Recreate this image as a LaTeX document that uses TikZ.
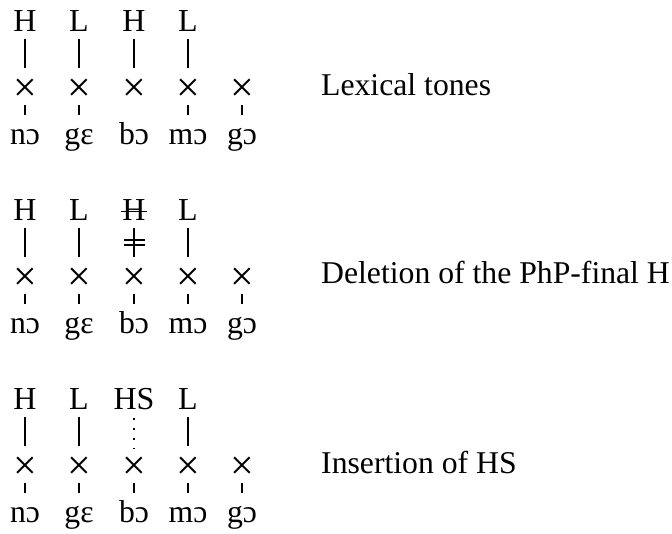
\documentclass[tikz,border=0pt]{standalone}
\usepackage{fontspec}
\setmainfont{Liberation Serif}
\usetikzlibrary{calc}
\tikzset{
  tone/.style={font=\fontsize{32}{36}\selectfont, inner sep=0pt, text depth=0pt, anchor=base},
  slot/.style={font=\fontsize{42}{46}\selectfont, inner sep=0pt, text height=20.7pt, text depth=0pt, anchor=base},
  syl/.style={font=\fontsize{31.7}{36}\selectfont, inner sep=0pt, text height=20pt, text depth=0pt, anchor=base},
  desc/.style={font=\fontsize{31.7}{36}\selectfont, inner sep=0pt, anchor=base west},
  assoc/.style={line width=1.3pt, shorten <=6.6pt, shorten >=12.9pt},
  dotassoc/.style={line width=1.5pt, dash pattern=on 1.6pt off 8.4pt, shorten <=8pt, shorten >=9.9pt},
  tickline/.style={line width=1.3pt, shorten <=3pt, shorten >=9.5pt},
  bar/.style={line width=1.5pt},
}
\begin{document}
\begin{tikzpicture}[x=1pt,y=-1pt]
\useasboundingbox (0,0) rectangle (672,533);
% column positions
\def\cA{25}\def\cB{79}\def\cC{134}\def\cD{188}\def\cE{242}
% ---------- Block 1 ----------
\def\B{31.7}
\node[tone] (t11) at (\cA,\B) {H};
\node[tone] (t12) at (\cB,\B) {L};
\node[tone] (t13) at (\cC,\B) {H};
\node[tone] (t14) at (\cD,\B) {L};
\foreach \c/\n in {\cA/1,\cB/2,\cC/3,\cD/4,\cE/5}{
  \node[slot] (x1\n) at (\c,\B+70.2) {×};
}
\node[syl] (s11) at (\cA,\B+113) {nɔ};
\node[syl] (s12) at (\cB,\B+113) {gɛ};
\node[syl] (s13) at (\cC,\B+113) {bɔ};
\node[syl] (s14) at (\cD,\B+113) {mɔ};
\node[syl] (s15) at (\cE,\B+113) {gɔ};
\foreach \n in {1,2,3,4}{ \draw[assoc] (t1\n.south) -- (x1\n.north); }
\foreach \n in {1,2,4,5}{ \draw[tickline] (x1\n.south) -- (s1\n.north); }
\node[desc] (d1) at (321,\B+64) {Lexical tones};
% ---------- Block 2 ----------
\def\B{220.7}
\node[tone] (t21) at (\cA,\B) {H};
\node[tone] (t22) at (\cB,\B) {L};
\node[tone] (t23) at (\cC,\B) {H};
\node[tone] (t24) at (\cD,\B) {L};
\foreach \c/\n in {\cA/1,\cB/2,\cC/3,\cD/4,\cE/5}{
  \node[slot] (x2\n) at (\c,\B+70.2) {×};
}
\node[syl] (s21) at (\cA,\B+113) {nɔ};
\node[syl] (s22) at (\cB,\B+113) {gɛ};
\node[syl] (s23) at (\cC,\B+113) {bɔ};
\node[syl] (s24) at (\cD,\B+113) {mɔ};
\node[syl] (s25) at (\cE,\B+113) {gɔ};
\foreach \n in {1,2,3,4}{ \draw[assoc] (t2\n.south) -- (x2\n.north); }
\foreach \n in {1,2,3,4,5}{ \draw[tickline] (x2\n.south) -- (s2\n.north); }
% strike through the deleted H
\draw[bar] ($(t23.base west)+(-1.5,-9)$) -- ($(t23.base east)+(1.5,-9)$);
% delinking bars
\draw[bar] ($(t23.south)+(-10.5,19.3)$) -- ($(t23.south)+(10.5,19.3)$);
\draw[bar] ($(t23.south)+(-10.5,24.3)$) -- ($(t23.south)+(10.5,24.3)$);
\node[desc] (d2) at (321,\B+62.5) {Deletion of the PhP-final H};
% ---------- Block 3 ----------
\def\B{409.7}
\node[tone] (t31) at (\cA,\B) {H};
\node[tone] (t32) at (\cB,\B) {L};
\node[tone] (t33) at (\cC,\B) {HS};
\node[tone] (t34) at (\cD,\B) {L};
\foreach \c/\n in {\cA/1,\cB/2,\cC/3,\cD/4,\cE/5}{
  \node[slot] (x3\n) at (\c,\B+70.2) {×};
}
\node[syl] (s31) at (\cA,\B+113) {nɔ};
\node[syl] (s32) at (\cB,\B+113) {gɛ};
\node[syl] (s33) at (\cC,\B+113) {bɔ};
\node[syl] (s34) at (\cD,\B+113) {mɔ};
\node[syl] (s35) at (\cE,\B+113) {gɔ};
\foreach \n in {1,2,4}{ \draw[assoc] (t3\n.south) -- (x3\n.north); }
\draw[dotassoc] (t33.south) -- (x33.north);
\foreach \n in {1,2,3,4,5}{ \draw[tickline] (x3\n.south) -- (s3\n.north); }
\node[desc] (d3) at (321,\B+64) {Insertion of HS};
\end{tikzpicture}
\end{document}
